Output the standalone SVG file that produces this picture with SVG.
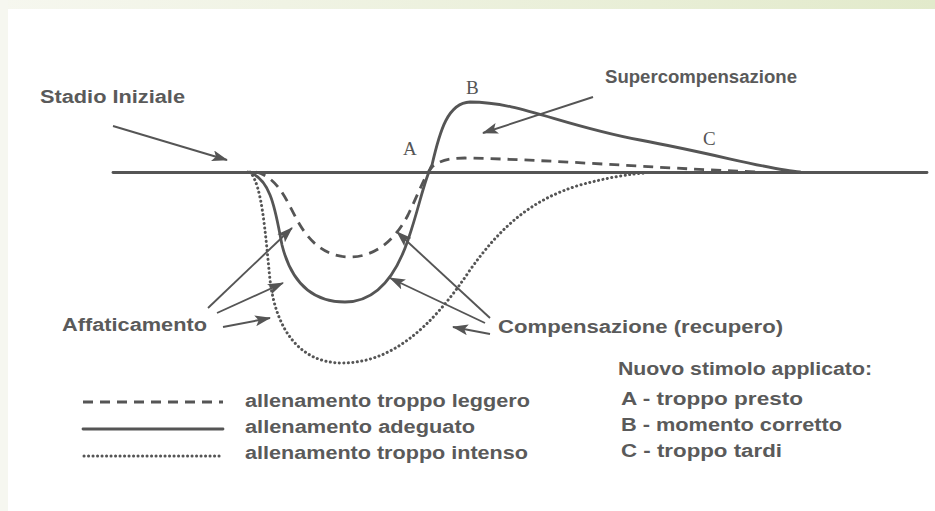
<svg xmlns="http://www.w3.org/2000/svg" width="935" height="511" viewBox="0 0 935 511">
<defs>
<linearGradient id="topband" x1="0" y1="0" x2="1" y2="0">
<stop offset="0" stop-color="#f6f7ef"/>
<stop offset="1" stop-color="#e2eacb"/>
</linearGradient>
<marker id="ah" markerUnits="userSpaceOnUse" markerWidth="16" markerHeight="11" refX="15" refY="5.5" orient="auto">
<path d="M0,0 L16,5.5 L0,11 L3.5,5.5 Z" fill="#555"/>
</marker>
<style>
.t{font-family:"Liberation Sans",Arial,sans-serif;font-weight:bold;font-size:18px;fill:#5a5a5a}
.l{font-family:"Liberation Serif","Times New Roman",serif;font-size:19px;fill:#555}
.c{fill:none;stroke:#555;stroke-width:2.8;stroke-linecap:round;stroke-linejoin:round}
.dash{stroke-dasharray:10 7;stroke-linecap:butt}
.dot{stroke-dasharray:0.1 4.4;stroke-width:3}
.ar{fill:none;stroke:#555;stroke-width:1.9;marker-end:url(#ah)}
</style>
</defs>
<rect x="0" y="0" width="935" height="511" fill="#ffffff"/>
<rect x="0" y="0" width="935" height="9" fill="url(#topband)"/>
<rect x="0" y="0" width="8" height="511" fill="#f6f7f0"/>

<g id="baseline">
<line x1="113" y1="172.5" x2="927" y2="172.5" class="c" stroke-width="2.6"/>
</g>

<g id="curves">
<path id="solid" class="c" d="M248,172 C272,178 276,215 282,245 C292,285 315,302 345,302 C375,302 395,278 408,240 C420,205 424,180 432,165 C440,130 448,103 470,102 C520,102 560,125 640,140 C720,155 770,170 800,172"/>
<path id="dashed" class="c dash" d="M256,172 C280,178 288,205 300,225 C312,245 328,257 350,257 C375,257 395,240 408,215 C420,190 425,175 432,167 C440,160 450,158 465,158 C560,160 650,168 760,172"/>
<path id="dotted" class="c dot" d="M250,172 C262,185 265,230 270,280 C276,330 300,363 342,363 C390,363 430,330 470,270 C500,228 530,200 580,185 C610,177 630,174 645,173"/>
</g>

<g id="points">
<text class="l" x="403" y="155">A</text>
<text class="l" x="466" y="94">B</text>
<text class="l" x="703" y="145">C</text>
</g>

<g id="connectors">
<line class="ar" x1="113" y1="126" x2="227" y2="160"/>
<line class="ar" x1="593" y1="97" x2="483" y2="133"/>
<line class="ar" x1="208" y1="308" x2="292" y2="228"/>
<line class="ar" x1="217" y1="313" x2="283" y2="283"/>
<line class="ar" x1="223" y1="327" x2="270" y2="318"/>
<line class="ar" x1="490" y1="318" x2="397" y2="232"/>
<line class="ar" x1="485" y1="323" x2="390" y2="278"/>
<line class="ar" x1="490" y1="334" x2="453" y2="327"/>
</g>

<g id="stadio"><text class="t" x="40" y="103" textLength="145" lengthAdjust="spacingAndGlyphs">Stadio Iniziale</text></g>
<g id="super"><text class="t" x="605" y="83" textLength="192" lengthAdjust="spacingAndGlyphs">Supercompensazione</text></g>
<g id="affat"><text class="t" x="62" y="331" textLength="145" lengthAdjust="spacingAndGlyphs">Affaticamento</text></g>
<g id="compens"><text class="t" x="498" y="333" textLength="285" lengthAdjust="spacingAndGlyphs">Compensazione (recupero)</text></g>

<g id="legend">
<line x1="83" y1="402" x2="223" y2="402" class="c dash" stroke-dasharray="11 7"/>
<line x1="83" y1="429" x2="223" y2="429" class="c"/>
<line x1="84" y1="456" x2="223" y2="456" class="c dot" stroke-width="2.2" stroke-dasharray="0.1 3.4"/>
<text class="t" x="245" y="407" textLength="285" lengthAdjust="spacingAndGlyphs">allenamento troppo leggero</text>
<text class="t" x="245" y="433" textLength="230" lengthAdjust="spacingAndGlyphs">allenamento adeguato</text>
<text class="t" x="245" y="459" textLength="283" lengthAdjust="spacingAndGlyphs">allenamento troppo intenso</text>
</g>

<g id="stimolo">
<text class="t" x="618" y="375" textLength="254" lengthAdjust="spacingAndGlyphs">Nuovo stimolo applicato:</text>
<text class="t" x="621" y="405" textLength="182" lengthAdjust="spacingAndGlyphs">A - troppo presto</text>
<text class="t" x="621" y="431" textLength="221" lengthAdjust="spacingAndGlyphs">B - momento corretto</text>
<text class="t" x="621" y="457" textLength="161" lengthAdjust="spacingAndGlyphs">C - troppo tardi</text>
</g>
</svg>
